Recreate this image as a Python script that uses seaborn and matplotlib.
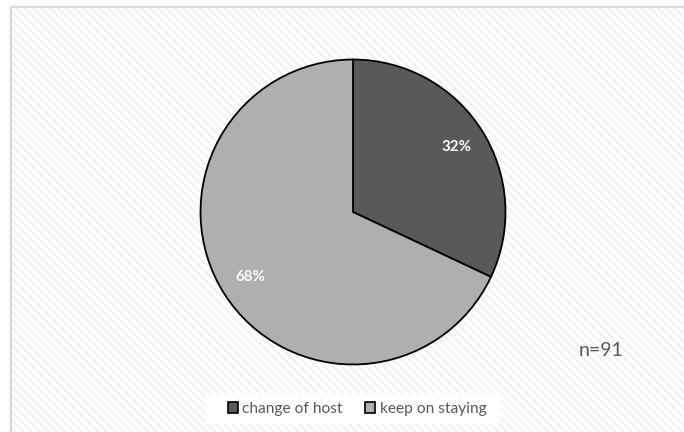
import matplotlib
matplotlib.use("Agg")
import matplotlib.pyplot as plt
from matplotlib.patches import Rectangle
import seaborn as sns

# Share of respondents by decision
categories = ["change of host", "keep on staying"]
shares = [32, 68]
sample_label = "n=91"
slice_colors = ["#595959", "#afafaf"]

sns.set_theme(style="white")
plt.rcParams["font.family"] = ["Lato", "DejaVu Sans"]
plt.rcParams["hatch.linewidth"] = 1.2

W, H = 684, 432
fig = plt.figure(figsize=(W / 100, H / 100), dpi=100)
fig.patch.set_facecolor("white")

# Chart area: hatched background with a light frame, on its own back axes
bg = fig.add_axes([0, 0, 1, 1], zorder=-1)
bg.set_xlim(0, W)
bg.set_ylim(H, 0)
bg.axis("off")
bg.add_patch(Rectangle((11, 7), W, H, facecolor="white", edgecolor="#eeeeee",
                       linewidth=0, hatch="\\\\\\\\"))
bg.add_patch(Rectangle((11, 7), W, H, facecolor="none", edgecolor="#d9d9d9",
                       linewidth=1.6))
# plain backing behind the legend
bg.add_patch(Rectangle((206, 393), 295, 31, facecolor="white", edgecolor="none"))

# Pie
cx, cy, r = 353, 212, 154
ax = fig.add_axes([(cx - r) / W, (H - cy - r) / H, 2 * r / W, 2 * r / H])
wedges, texts, autotexts = ax.pie(
    shares, colors=slice_colors, startangle=90, counterclock=False,
    autopct=lambda p: f"{p:.0f}%", pctdistance=0.8,
    wedgeprops=dict(edgecolor="black", linewidth=1.3),
    textprops=dict(color="white", fontsize=10.8, fontweight="bold"))
ax.set_xlim(-1.01, 1.01)
ax.set_ylim(-1.01, 1.01)
ax.set_aspect("equal")
ax.axis("off")

# Sample size note
fig.text(601 / W, 1 - 350 / H, sample_label, fontsize=14, color="#595959",
         ha="center", va="center")

# Legend
handles = [Rectangle((0, 0), 1, 1, facecolor=c, edgecolor="black", linewidth=1.2)
           for c in slice_colors]
leg = fig.legend(handles, categories, loc="center", bbox_to_anchor=(357 / W, 1 - 409 / H),
                 ncol=2, frameon=False, fontsize=11.2, handlelength=0.65,
                 handleheight=0.65, handletextpad=0.3, columnspacing=1.4)
for t in leg.get_texts():
    t.set_color("#595959")

fig.savefig("out.png", dpi=100)
